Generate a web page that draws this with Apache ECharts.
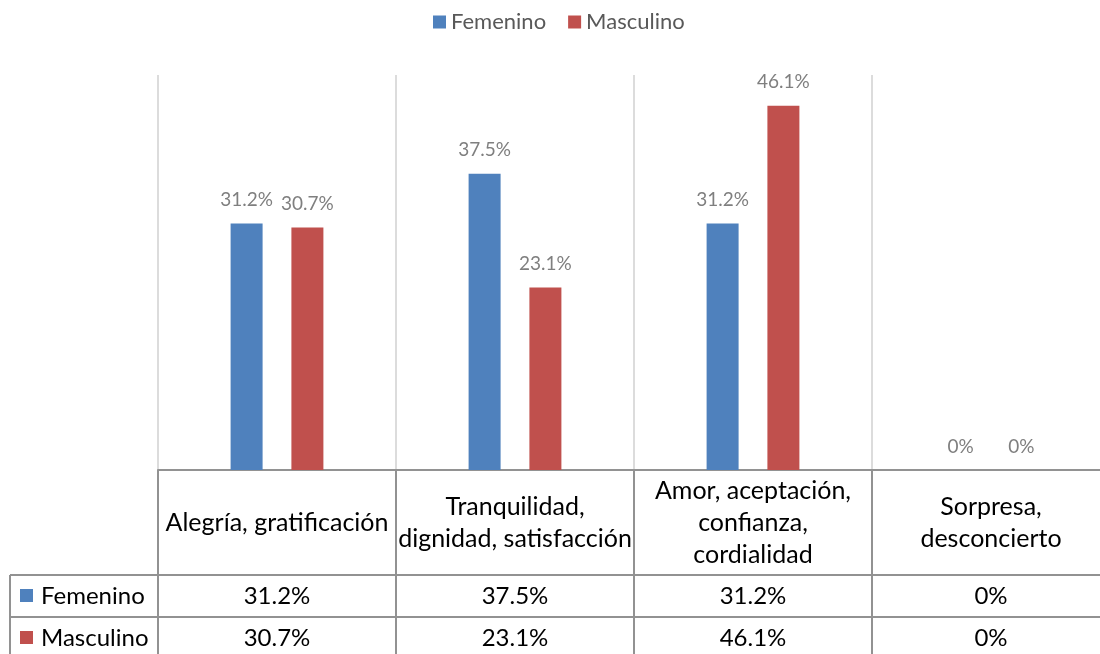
<!DOCTYPE html>
<html>
<head>
<meta charset="utf-8">
<script src="https://cdn.jsdelivr.net/npm/echarts@6/dist/echarts.min.js"></script>
<style>
  html, body { margin: 0; padding: 0; background: #ffffff; }
  #chart { width: 1100px; height: 654px; }
</style>
</head>
<body>
<div id="chart"></div>
<script>
// Emotion categories (header row of the data table)
const categories = [
  'Alegría, gratificación',
  'Tranquilidad,\ndignidad, satisfacción',
  'Amor, aceptación,\nconfianza,\ncordialidad',
  'Sorpresa,\ndesconcierto'
];
const seriesNames = ['Femenino', 'Masculino'];
const femenino = [31.2, 37.5, 31.2, 0];
const masculino = [30.7, 23.1, 46.1, 0];
const colors = ['#4F81BD', '#C0504D'];

const FONT = 'Lato, "Liberation Sans", sans-serif';
const LINE = '#929292';
const LINE_W = 2;
const pct = v => v + '%';

// Plot area geometry
const PLOT_LEFT = 158, PLOT_TOP = 75, AXIS_Y = 470;
const HEADER_H = 105, ROW_H = 42;
const ROW1_Y = AXIS_Y + HEADER_H;       // top of Femenino row
const ROW2_Y = ROW1_Y + ROW_H;          // top of Masculino row

const chart = echarts.init(document.getElementById('chart'), null, { renderer: 'canvas' });

function tableAxis(values, offset) {
  return {
    type: 'category',
    gridIndex: 0,
    position: 'bottom',
    offset: offset,
    data: categories,
    axisLine: { show: true, lineStyle: { color: LINE, width: LINE_W } },
    axisTick: { show: true, interval: 0, length: ROW_H, lineStyle: { color: LINE, width: LINE_W } },
    axisLabel: {
      interval: 0,
      margin: ROW_H / 2,
      verticalAlign: 'middle',
      fontFamily: FONT,
      fontSize: 24,
      color: '#000',
      formatter: (val, idx) => pct(values[idx])
    },
    splitLine: { show: false }
  };
}

function rowHeader(name, color, top) {
  return {
    type: 'group',
    children: [
      { type: 'line', shape: { x1: 10, y1: top, x2: PLOT_LEFT, y2: top },
        style: { stroke: LINE, lineWidth: LINE_W } },
      { type: 'rect', shape: { x: 20, y: top + ROW_H / 2 - 7, width: 13, height: 13 },
        style: { fill: color } },
      { type: 'text', x: 41, y: top + ROW_H / 2,
        style: { text: name, fill: '#000', font: '24px ' + FONT, verticalAlign: 'middle' } }
    ]
  };
}

const option = {
  backgroundColor: '#ffffff',
  animation: false,
  color: colors,
  legend: {
    data: seriesNames,
    left: 428,
    top: 6,
    icon: 'rect',
    itemWidth: 13,
    itemHeight: 13,
    itemGap: 22,
    textStyle: { color: '#595959', fontSize: 22, fontFamily: FONT }
  },
  grid: {
    left: PLOT_LEFT,
    right: -10,
    top: PLOT_TOP,
    bottom: 654 - AXIS_Y,
    outerBoundsMode: 'none',
    containLabel: false
  },
  xAxis: [
    {
      type: 'category',
      gridIndex: 0,
      position: 'bottom',
      data: categories,
      axisLine: { show: true, lineStyle: { color: LINE, width: LINE_W } },
      axisTick: { show: true, interval: 0, length: HEADER_H, lineStyle: { color: LINE, width: LINE_W } },
      axisLabel: {
        interval: 0,
        margin: 53,
        verticalAlign: 'middle',
        lineHeight: 32,
        fontFamily: FONT,
        fontSize: 25,
        color: '#000'
      },
      splitLine: { show: true, interval: 0, lineStyle: { color: '#dcdcdc', width: 2 } }
    },
    tableAxis(femenino, HEADER_H),
    tableAxis(masculino, HEADER_H + ROW_H)
  ],
  yAxis: {
    type: 'value',
    min: 0,
    max: 50,
    show: false
  },
  series: [
    {
      name: seriesNames[0],
      type: 'bar',
      xAxisIndex: 0,
      data: femenino,
      barWidth: 32,
      barGap: '90%',
      itemStyle: { color: colors[0] },
      label: {
        show: true, position: 'top', distance: 14,
        color: '#7f7f7f', fontSize: 19, fontFamily: FONT,
        formatter: p => pct(p.value)
      }
    },
    {
      name: seriesNames[1],
      type: 'bar',
      xAxisIndex: 0,
      data: masculino,
      barWidth: 32,
      barGap: '90%',
      itemStyle: { color: colors[1] },
      label: {
        show: true, position: 'top', distance: 14,
        color: '#7f7f7f', fontSize: 19, fontFamily: FONT,
        formatter: p => pct(p.value)
      }
    }
  ],
  graphic: [
    rowHeader(seriesNames[0], colors[0], ROW1_Y),
    rowHeader(seriesNames[1], colors[1], ROW2_Y),
    { type: 'line', shape: { x1: 10, y1: ROW1_Y, x2: 10, y2: 660 },
      style: { stroke: LINE, lineWidth: LINE_W } }
  ]
};

chart.setOption(option);
</script>
</body>
</html>
